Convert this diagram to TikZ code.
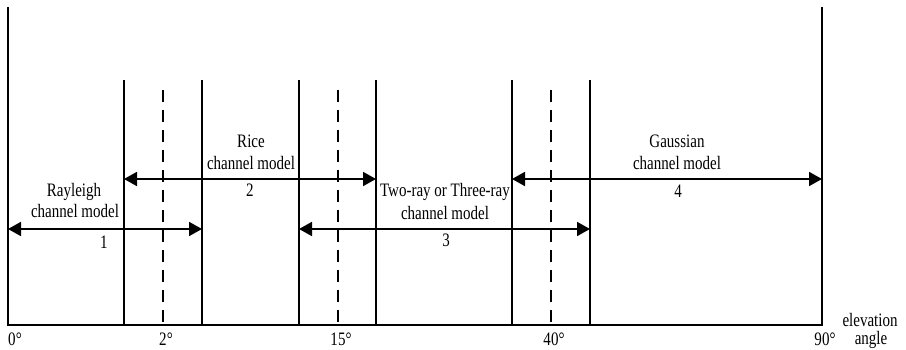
\documentclass[tikz,border=0pt]{standalone}
\usepackage{fontspec}
\setmainfont{Liberation Serif}
\usetikzlibrary{arrows.meta}
\newcommand{\sqz}[1]{\scalebox{0.79}[1]{#1}}
\begin{document}
\begin{tikzpicture}[x=1pt,y=-1pt,
  solidln/.style={line width=1.8pt},
  dashln/.style={line width=1.8pt,dash pattern=on 12pt off 8pt},
  rng/.style={line width=1.8pt,{Triangle[length=13pt,width=14pt]}-{Triangle[length=13pt,width=14pt]}},
  lbl/.style={inner sep=0pt,anchor=base,font=\fontsize{19}{23}\selectfont}]
\useasboundingbox (0,0) rectangle (906,350);
% frame
\coordinate (tl) at (8,7);
\coordinate (bl) at (8,325);
\coordinate (tr) at (822,7);
\coordinate (br) at (822,325);
\draw[solidln] (tl) -- (bl) -- (br) -- (tr);
% vertical lines
\foreach \n/\x in {a/124, b/202, c/299, d/376, e/512, f/590}{
  \coordinate (\n t) at (\x,80);
  \coordinate (\n b) at (\x,325);
  \draw[solidln] (\n t) -- (\n b);
}
\foreach \n/\x in {g/163, h/338, i/551}{
  \coordinate (\n t) at (\x,90);
  \coordinate (\n b) at (\x,325);
  \draw[dashln] (\n t) -- (\n b);
}
% range arrows
\coordinate (r1a) at (8,229);   \coordinate (r1b) at (202,229);
\coordinate (r2a) at (124,179); \coordinate (r2b) at (376,179);
\coordinate (r3a) at (299,229); \coordinate (r3b) at (590,229);
\coordinate (r4a) at (512,179); \coordinate (r4b) at (822,179);
\draw[rng] (r1a) -- (r1b);
\draw[rng] (r2a) -- (r2b);
\draw[rng] (r3a) -- (r3b);
\draw[rng] (r4a) -- (r4b);
% labels
\node[lbl] (t1a) at (74,197) {\sqz{Rayleigh}};
\node[lbl] (t1b) at (75,218) {\sqz{channel model}};
\node[lbl] (n1) at (104,248) {\sqz{1}};
\node[lbl] (t2a) at (251,148) {\sqz{Rice}};
\node[lbl] (t2b) at (251,170) {\sqz{channel model}};
\node[lbl] (n2) at (250,197) {\sqz{2}};
\node[lbl] (t3a) at (445,197) {\sqz{Two-ray or Three-ray}};
\node[lbl] (t3b) at (445,219) {\sqz{channel model}};
\node[lbl] (n3) at (446,247) {\sqz{3}};
\node[lbl] (t4a) at (677,148) {\sqz{Gaussian}};
\node[lbl] (t4b) at (677,170) {\sqz{channel model}};
\node[lbl] (n4) at (678,198) {\sqz{4}};
% degree labels
\node[lbl] (d0) at (15,345) {\sqz{0°}};
\node[lbl] (d2) at (166,345) {\sqz{2°}};
\node[lbl] (d15) at (341,345) {\sqz{15°}};
\node[lbl] (d40) at (554,345) {\sqz{40°}};
\node[lbl] (d90) at (825,345) {\sqz{90°}};
\node[lbl] (ea) at (870,326) {\sqz{elevation}};
\node[lbl] (eb) at (871,344) {\sqz{angle}};
\end{tikzpicture}
\end{document}
